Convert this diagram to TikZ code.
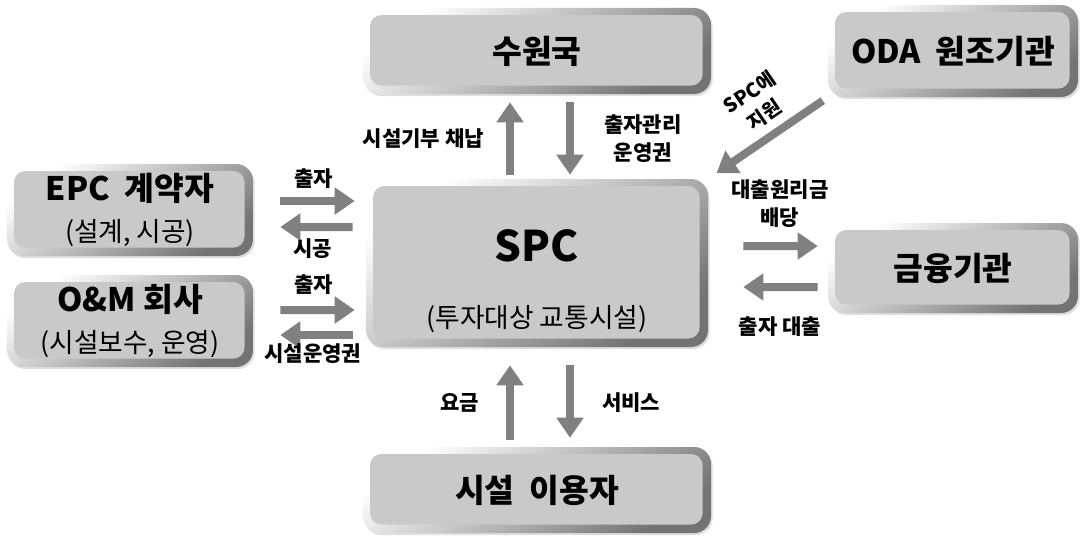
\documentclass[tikz,border=0pt]{standalone}
\usepackage{fontspec}
\setmainfont{Noto Sans CJK KR}
\usepackage{tikz}
\usetikzlibrary{positioning}
\usetikzlibrary{arrows.meta}
\usetikzlibrary{shadows}
\tikzset{node distance=1.6cm, auto, on grid}

\tikzset{
  blk/.style={rounded corners=12pt, align=center, inner sep=0pt,
    top color=white, bottom color=gray!90!black, shading angle=35,
    drop shadow={shadow xshift=1.2pt, shadow yshift=-1.5pt, opacity=0.25},
    path picture={\fill[gray!42, rounded corners=8pt]
      ([shift={(5pt,-5pt)}]path picture bounding box.north west) rectangle
      ([shift={(-6pt,6pt)}]path picture bounding box.south east);}},
  big/.style={font=\fontsize{23}{29.5}\selectfont\bfseries},
  fat/.style={draw=gray, line width=0.2cm, -{Triangle[length=0.5cm, width=0.65cm]}},
  lbl/.style={font=\fontsize{15}{20}\selectfont\bfseries, align=center, text=black}
}

\begin{document}
\begin{tikzpicture}
   \useasboundingbox (-13.425,-6.9) rectangle (13.625,6.575);
   \node[blk, minimum width=8.55cm, minimum height=4.2cm, font=\fontsize{30}{47}\selectfont\bfseries] (1)
      {\rule{0pt}{48pt}SPC\\{\fontsize{19}{23}\selectfont\mdseries (투자대상 교통시설)}};
   \node[blk, big, minimum width=8.7cm, minimum height=2.15cm] (2) [above=5.3cm of 1] {수원국};
   \node[blk, big, minimum width=8.7cm, minimum height=2.15cm] (3) [below=5.675cm of 1] {시설\ \ 이용자};
   \node[blk, big, minimum width=6.15cm, minimum height=2.3cm] (4) [above left=1.325cm and 10.175cm of 1]
      {EPC\ \ 계약자\\{\fontsize{19}{23}\selectfont\mdseries (설계, 시공)}};
   \node[blk, big, minimum width=6.15cm, minimum height=2.3cm] (5) [below left=1.45cm and 10.175cm of 1]
      {O\&M 회사\\{\fontsize{19}{23}\selectfont\mdseries (시설보수, 운영)}};
   \node[blk, big, minimum width=6.25cm, minimum height=2.3cm] (6) [above right=5.3cm and 10.4cm of 1] {ODA\ \ 원조기관};
   \node[blk, big, minimum width=6.25cm, minimum height=2.25cm] (7) [below right=0.125cm and 10.4cm of 1] {금융기관};
   % 수원국
   \draw[fat, shorten <=0.1cm, shorten >=0.2cm] ([xshift=-0.675cm]1.north) to
      node[lbl, pos=0.47, inner xsep=0.55cm] {시설기부 채납} ([xshift=-0.675cm]2.south);
   \draw[fat, shorten <=0.2cm, shorten >=0.1cm] ([xshift=0.825cm]2.south) to
      node[lbl, pos=0.53, inner xsep=0.75cm] {출자관리\\운영권} ([xshift=0.825cm]1.north);
   % 시설 이용자
   \draw[fat, shorten <=0.175cm, shorten >=0.45cm] ([xshift=-0.675cm]3.north) to
      node[lbl, pos=0.44, inner xsep=0.675cm] {요금} ([xshift=-0.675cm]1.south);
   \draw[fat, shorten <=0.45cm, shorten >=0.225cm] ([xshift=0.825cm]1.south) to
      node[lbl, pos=0.56, inner xsep=0.7cm] {서비스} ([xshift=0.825cm]3.north);
   % EPC, O&M
   \draw[fat, shorten <=0.675cm, shorten >=0.275cm] ([yshift=0.225cm]4.east) to
      node[lbl, pos=0.54, inner ysep=0.2cm] {출자} ([yshift=1.55cm]1.west);
   \draw[fat, shorten <=0.325cm, shorten >=0.675cm] ([yshift=0.9cm]1.west) to
      node[lbl, pos=0.47, inner ysep=0.2cm] {시공} ([yshift=-0.425cm]4.east);
   \draw[fat, shorten <=0.675cm, shorten >=0.275cm] ([yshift=0.275cm]5.east) to
      node[lbl, pos=0.54, inner ysep=0.3cm] {출자} ([yshift=-1.175cm]1.west);
   \draw[fat, shorten <=0.325cm, shorten >=0.675cm] ([yshift=-1.8cm]1.west) to
      node[lbl, pos=0.47, inner ysep=0.125cm] {시설운영권} ([yshift=-0.35cm]5.east);
   % ODA
   \draw[fat, shorten <=0.15cm, shorten >=0.25cm] (6.south west) to
      node[lbl, sloped, pos=0.43, inner ysep=0.2cm, font=\fontsize{14}{19}\selectfont\bfseries] {SPC에\\지원} (1.north east);
   % 금융기관
   \draw[fat, shorten <=0.875cm, shorten >=0.25cm] ([yshift=0.425cm]1.east) to
      node[lbl, pos=0.6, inner ysep=0.35cm] {대출원리금\\배당} ([yshift=0.55cm]7.west);
   \draw[fat, shorten <=0.25cm, shorten >=0.875cm] ([yshift=-0.475cm]7.west) to
      node[lbl, pos=0.4, inner ysep=0.65cm] {출자 대출} ([yshift=-0.6cm]1.east);
\end{tikzpicture}
\end{document}
